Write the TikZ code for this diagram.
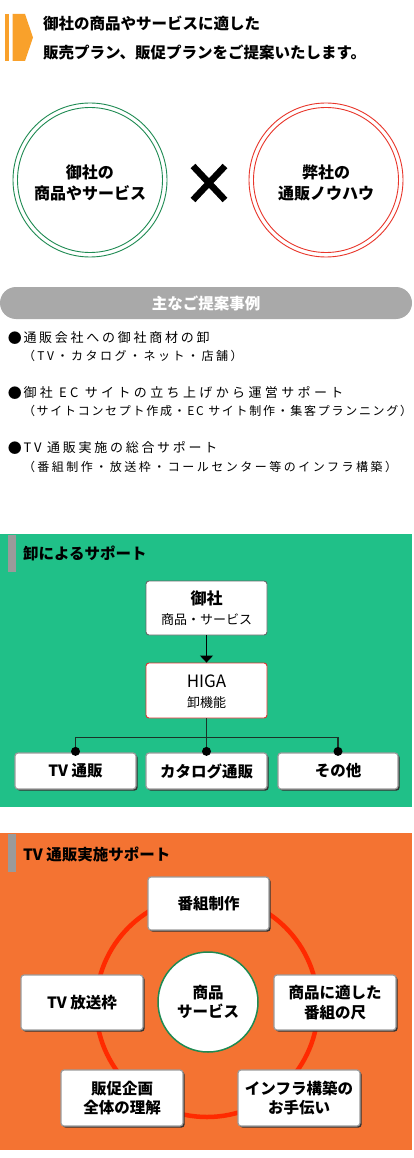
\documentclass[tikz,border=0pt]{standalone}
\usepackage{fontspec}
\setmainfont{Noto Sans CJK JP}
\newfontfamily\blA[LetterSpace=21]{Noto Sans CJK JP}
\newfontfamily\blB[LetterSpace=26]{Noto Sans CJK JP}
\newfontfamily\blC[LetterSpace=20.8]{Noto Sans CJK JP}
\newfontfamily\blD[LetterSpace=14.2]{Noto Sans CJK JP}
\usetikzlibrary{shadows,arrows.meta}
\newcommand\myfs[2]{\fontsize{#1}{#2}\selectfont}
\definecolor{markor}{HTML}{F9A12B}
\definecolor{cgreen}{HTML}{1E8A52}
\definecolor{cred}{HTML}{E8352A}
\definecolor{bannergray}{HTML}{A9A9A9}
\definecolor{bggreen}{HTML}{20C088}
\definecolor{bgorange}{HTML}{F47332}
\definecolor{ringred}{HTML}{FF2A00}
\definecolor{bargray}{HTML}{9A9A9A}
\definecolor{boxgray}{HTML}{9C9C9C}
\definecolor{lineDark}{HTML}{1A3328}
\definecolor{higared}{HTML}{E03030}
\tikzset{
  txt/.style={inner sep=0pt,outer sep=0pt},
  plainbox/.style={draw=#1, fill=white, rounded corners=3pt, line width=0.9pt},
  sbox/.style={draw=boxgray, fill=white, rounded corners=3pt, line width=1.2pt,
    drop shadow={shadow xshift=1.6pt,shadow yshift=-1.6pt,opacity=1,fill=black!80}},
  btxt/.style={txt, font=\myfs{15.5}{19.5}\bfseries, align=center},
}
\begin{document}
\begin{tikzpicture}[x=1pt,y=-1pt]
\useasboundingbox (0,0) rectangle (414,1158);
\fill[white] (0,0) rectangle (414,1158);

% header
\fill[markor] (5,14) rectangle (9,61);
\fill[markor] (12.5,14) -- (25,14) -- (33,37.5) -- (25,61) -- (12.5,61) -- cycle;
\node[txt, anchor=west, font=\myfs{15.5}{18}\bfseries] (h1) at (43,23) {御社の商品やサービスに適した};
\node[txt, anchor=west, font=\myfs{15.5}{18}\bfseries] (h2) at (43,52) {販売プラン、販促プランをご提案いたします。};

% circles
\draw[cgreen, line width=0.9pt] (90,180) circle (77) (90,180) circle (72.5);
\draw[cred, line width=0.9pt] (326,180) circle (77) (326,180) circle (72.5);
\node[btxt, font=\myfs{16}{21}\bfseries] (c1) at (90,183) {御社の\\商品やサービス};
\node[btxt, font=\myfs{16}{21}\bfseries] (c2) at (326,183) {弊社の\\通販ノウハウ};
\draw[line width=6.5pt] (193,166) -- (225,200) (225,166) -- (193,200);

% banner
\node[fill=bannergray, rounded corners=16pt, minimum width=412pt, minimum height=32pt, inner sep=0pt,
  text=white, font=\myfs{15.5}{18}\bfseries] (banner) at (206,303) {主なご提案事例};

% bullets
\foreach \y in {338,393,448} {\node[txt, font=\myfs{14}{16}] at (15,\y) {●};}
\node[txt, anchor=west, font=\myfs{13}{16}\blA] (b1) at (23.5,338) {通販会社への御社商材の卸};
\node[txt, anchor=west, font=\myfs{12}{15}\blC] (b1s) at (23,356) {（TV・カタログ・ネット・店舗）};
\node[txt, anchor=west, font=\myfs{13}{16}\blB] (b2) at (23.5,393) {御社 EC サイトの立ち上げから運営サポート};
\node[txt, anchor=west, font=\myfs{12}{15}\blD] (b2s) at (23,411) {（サイトコンセプト作成・EC サイト制作・集客プランニング）};
\node[txt, anchor=west, font=\myfs{13}{16}\blA] (b3) at (23.5,448) {TV 通販実施の総合サポート};
\node[txt, anchor=west, font=\myfs{12}{15}\blC] (b3s) at (23,467) {（番組制作・放送枠・コールセンター等のインフラ構築）};

% green section
\fill[bggreen] (0,534) rectangle (412,807);
\fill[bargray] (8,535) rectangle (16,572);
\node[txt, anchor=west, font=\myfs{15.5}{18}\bfseries] (gt) at (23,553) {卸によるサポート};

\node[plainbox=black!60, minimum width=121pt, minimum height=54pt] (gosha) at (206.5,608) {};
\node[txt, font=\myfs{16}{18}\bfseries] at (206.5,598) {御社};
\node[txt, font=\myfs{13}{16}] at (206.5,620) {商品・サービス};

\node[plainbox=higared, minimum width=121pt, minimum height=55pt] (higa) at (206.5,690.5) {};
\node[txt, font=\myfs{17}{19}] at (206.5,681) {HIGA};
\node[txt, font=\myfs{13}{16}] at (206.5,703) {卸機能};

\draw[line width=1pt, -{Triangle[width=13pt,length=7pt]}] (gosha.south) -- (higa.north);

\node[sbox, minimum width=121pt, minimum height=36pt, font=\myfs{15.5}{18}\bfseries] (g1) at (75.5,771) {TV 通販};
\node[sbox, minimum width=121pt, minimum height=36pt, font=\myfs{15.5}{18}\bfseries] (g2) at (206.5,771) {カタログ通販};
\node[sbox, minimum width=120pt, minimum height=36pt, font=\myfs{15.5}{18}\bfseries] (g3) at (338,771) {その他};

\draw[lineDark, line width=1.2pt] (higa.south) -- (g2.north);
\draw[lineDark, line width=1.2pt] (g1.north) -- ++(0,-15) -| (g3.north);
\foreach \n in {g1,g2,g3} {\fill[black] (\n.north) ++(0,-1) circle (4.5);}

% orange section
\fill[bgorange] (0,833) rectangle (412,1150);
\fill[bargray] (8,834) rectangle (16,872);
\node[txt, anchor=west, font=\myfs{15.5}{18}\bfseries] (ot) at (23,854) {TV 通販実施サポート};

\draw[ringred, line width=4.5pt] (207,1006) circle (111);

\node[circle, draw=cgreen, line width=1.5pt, fill=white, minimum size=100pt, inner sep=0pt,
  align=center, font=\myfs{15.5}{19.5}\bfseries] (core) at (208,1002) {商品\\サービス};

\node[sbox, minimum width=121pt, minimum height=53pt, align=center, font=\myfs{15.5}{19.5}\bfseries] (o1) at (208.5,903.5) {番組制作};
\node[sbox, minimum width=122pt, minimum height=55pt, align=center, font=\myfs{15.5}{19.5}\bfseries] (o2) at (82,1002.5) {TV 放送枠};
\node[sbox, minimum width=122pt, minimum height=55pt, align=center, font=\myfs{15.5}{19.5}\bfseries] (o3) at (335,1002.5) {商品に適した\\番組の尺};
\node[sbox, minimum width=122pt, minimum height=56pt, align=center, font=\myfs{15.5}{19.5}\bfseries] (o4) at (122,1098) {販促企画\\全体の理解};
\node[sbox, minimum width=122pt, minimum height=56pt, align=center, font=\myfs{15.5}{19.5}\bfseries] (o5) at (299,1098) {インフラ構築の\\お手伝い};
\end{tikzpicture}
\end{document}
